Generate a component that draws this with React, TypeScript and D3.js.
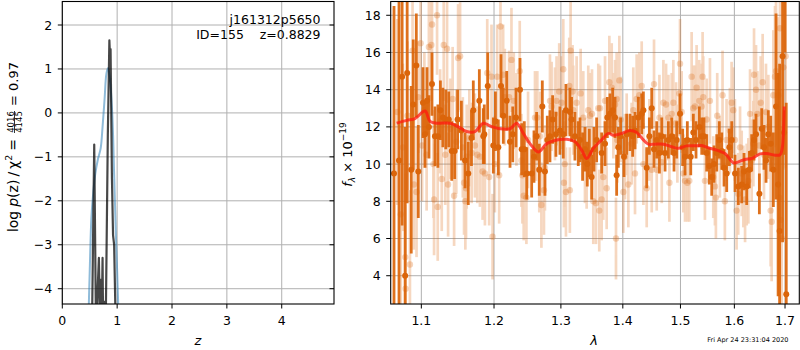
import React from 'react';
import * as d3 from 'd3';

// ---------- left panel: p(z) ----------
const pzZ = [0.54, 0.582, 0.615, 0.645, 0.667, 0.69, 0.70, 0.715, 0.734, 0.745, 0.77, 0.79, 0.83, 0.858, 0.872, 0.880, 0.905, 0.925, 0.945, 0.976];
const pzLogp = [-5, -0.72, -5, -4.0, -3.3, -5, -3.8, -5, -3.3, -5, -4.3, -5, -0.5, 1.65, 1.2, 1.45, -1.5, -2.78, -3.0, -5];
const priorZ = [0.47, 0.50, 0.53, 0.565, 0.60, 0.65, 0.70, 0.735, 0.77, 0.805, 0.835, 0.865, 0.91, 0.945, 0.975, 1.00, 1.035];
const priorLogp = [-5, -3.6, -2.4, -1.8, -1.4, -1.05, -0.8, -0.3, 0.3, 0.9, 1.02, 0.8, 0.0, -1.4, -2.7, -3.6, -5];
const zTicks = [0, 1, 2, 3, 4];
const logpTicks = [-4, -3, -2, -1, 0, 1, 2];

// ---------- right panel: spectrum ----------
const lamTicks = [1.1, 1.2, 1.3, 1.4, 1.5, 1.6, 1.7];
const fluxTicks = [4, 6, 8, 10, 12, 14, 16, 18];

const darkWave = [
  1.0646, 1.0710, 1.0750, 1.0789, 1.0815, 1.0868, 1.0894, 1.0934, 1.0960, 1.1022, 1.1049, 1.1075, 1.1101, 1.1141, 1.1181, 1.1220, 1.1254, 1.1287, 1.1327, 1.1367, 1.1408, 1.1448, 1.1488,
  1.1540, 1.1591, 1.1636, 1.1680, 1.1706, 1.1791, 1.1847, 1.1861, 1.1910, 1.1990, 1.2020, 1.2062, 1.2101, 1.2134, 1.2184, 1.2232, 1.2272, 1.2320, 1.2379, 1.2404, 1.2443, 1.2479,
  1.2553, 1.2588, 1.2628, 1.2668, 1.2714, 1.2754, 1.2790, 1.2831, 1.2872, 1.2923, 1.2985, 1.3037, 1.3079, 1.3141, 1.3167, 1.3220, 1.3273, 1.3300, 1.3342, 1.3380, 1.3417, 1.3450, 1.3487, 1.3525, 1.3568,
  1.3650, 1.3705, 1.3743, 1.3787, 1.3831, 1.3870, 1.3897, 1.3925, 1.3964, 1.4020, 1.4065, 1.4121, 1.4166, 1.4206, 1.4263, 1.4320, 1.4349, 1.4406, 1.4452, 1.4493, 1.4533, 1.4580, 1.4627, 1.4668, 1.4726, 1.4785,
  1.4844, 1.4885, 1.4933, 1.4992, 1.5040, 1.5082, 1.5124, 1.5186, 1.5233, 1.5282, 1.5343, 1.5387, 1.5429, 1.5479, 1.5527, 1.5572, 1.5615, 1.5666, 1.5714, 1.5760, 1.5803, 1.5854, 1.5904, 1.5950, 1.6013, 1.6076,
  1.6141, 1.6186, 1.6238, 1.6290, 1.6335, 1.6381, 1.6420, 1.6486, 1.6532, 1.6577, 1.6618, 1.6663, 1.6711, 1.6764, 1.6818, 1.6860, 1.6890, 1.6950, 1.6980, 1.7000, 1.7025,
];
const darkFlux = [
  9.5, 10.2, 14.7, 4.0, 14.9, 9.7, 13.2, 15.3, 9.6, 13.3, 11.6, 13.4, 12.0, 14.3, 11.5, 11.5, 12.9, 12.5, 12.4, 12.4, 10.7, 10.7, 12.4,
  11.8, 10.2, 9.5, 11.4, 12.9, 13.4, 11.5, 11.6, 14.2, 11.0, 12.3, 10.9, 14.2, 12.6, 13.4, 11.2, 11.6, 12.5, 14.0, 10.8, 10.8, 9.5,
  9.5, 10.4, 11.5, 9.7, 13.1, 9.6, 11.3, 11.5, 12.4, 11.6, 11.8, 11.6, 12.9, 12.8, 12.4, 11.5, 11.1, 11.3, 10.4, 10.8, 10.0, 10.6, 9.3, 10.8, 11.3,
  10.6, 11.1, 12.5, 12.7, 12.9, 12.5, 9.4, 10.9, 11.5, 10.4, 11.6, 11.7, 11.5, 11.8, 12.5, 12.7, 12.9, 9.8, 11.5, 13.0, 10.8, 11.3, 10.6, 11.5, 10.6, 11.3,
  11.5, 10.6, 11.3, 12.7, 10.9, 10.4, 11.3, 10.4, 11.7, 11.3, 12.0, 11.5, 11.5, 10.6, 9.9, 9.3, 10.0, 10.6, 11.3, 10.7, 9.8, 9.5, 10.9, 11.3, 9.5, 8.8,
  8.9, 9.6, 8.8, 9.7, 10.6, 11.3, 11.6, 8.4, 11.9, 10.9, 10.2, 11.6, 11.1, 9.7, 13.1, 8.9, 6.4, 15.8, 11.7, 25.0, 3.0,
];
const darkErr = [
  9.0, 9.0, 8.0, 8.0, 7.0, 4.5, 3.5, 2.8, 2.5, 1.9, 1.8, 1.8, 1.7, 1.7, 1.6, 1.7, 1.6, 1.6, 1.6, 1.5, 1.6, 1.5, 1.6,
  1.6, 1.5, 1.7, 1.5, 1.6, 1.7, 1.5, 1.6, 1.8, 1.5, 1.6, 1.5, 1.7, 1.5, 1.6, 1.4, 1.5, 1.6, 1.7, 1.4, 1.5, 1.4,
  1.3, 1.4, 1.3, 1.4, 1.4, 1.3, 1.3, 1.4, 1.3, 1.2, 1.3, 1.3, 1.4, 1.3, 1.2, 1.3, 1.2, 1.2, 1.3, 1.2, 1.2, 1.3, 1.2, 1.2, 1.2,
  1.1, 1.2, 1.1, 1.1, 1.2, 1.1, 1.1, 1.1, 1.0, 1.1, 1.1, 1.0, 1.1, 1.0, 1.1, 1.1, 1.0, 1.1, 1.0, 1.1, 1.0, 1.0, 1.1, 1.0, 1.0, 1.0,
  1.0, 1.0, 1.0, 1.1, 1.0, 1.0, 1.0, 1.0, 1.0, 1.0, 1.1, 1.0, 1.0, 1.0, 1.0, 1.0, 1.0, 1.0, 1.0, 1.0, 1.0, 1.0, 1.0, 1.0, 1.0, 1.0,
  1.0, 1.0, 1.0, 1.0, 1.0, 1.1, 1.1, 1.1, 1.1, 1.2, 1.2, 1.3, 1.5, 2.0, 5.0, 6.0, 9.0, 10.0, 1.2, 9.0, 10.3,
];

const lightWave = [
  1.0689, 1.0732, 1.0760, 1.0791, 1.0795, 1.0820, 1.0851, 1.0885, 1.0902, 1.0937, 1.0960, 1.0990, 1.1010, 1.1040, 1.1070, 1.1100, 1.1133, 1.1142, 1.1160, 1.1169, 1.1209, 1.1218, 1.1250, 1.1272, 1.1299, 1.1320, 1.1344, 1.1358, 1.1390, 1.1420, 1.1440, 1.1470, 1.1495,
  1.1522, 1.1560, 1.1577, 1.1595, 1.1605, 1.1614, 1.1651, 1.1683, 1.1729, 1.1762, 1.1799, 1.1837, 1.1870, 1.1903, 1.1931, 1.1964, 1.1979, 1.2012, 1.2045, 1.2074, 1.2093, 1.2132, 1.2156, 1.2219, 1.2253, 1.2287, 1.2326, 1.2375, 1.2400, 1.2415, 1.2434, 1.2474, 1.2499,
  1.2603, 1.2618, 1.2638, 1.2668, 1.2678, 1.2700, 1.2739, 1.2754, 1.2831, 1.2856, 1.2908, 1.2933, 1.2974, 1.3011, 1.3037, 1.3047, 1.3060, 1.3079, 1.3131, 1.3140, 1.3152, 1.3183, 1.3194, 1.3247, 1.3311, 1.3353, 1.3380, 1.3407, 1.3433, 1.3460, 1.3493, 1.3514, 1.3557, 1.3595, 1.3611,
  1.3623, 1.3650, 1.3677, 1.3705, 1.3732, 1.3776, 1.3815, 1.3842, 1.3870, 1.3886, 1.3897, 1.3908, 1.3942, 1.3964, 1.4009, 1.4037, 1.4065, 1.4093, 1.4149, 1.4177, 1.4206, 1.4234, 1.4280, 1.4320, 1.4349, 1.4406, 1.4452, 1.4493, 1.4533, 1.4580, 1.4627, 1.4668, 1.4697, 1.4744, 1.4785, 1.4803,
  1.4844, 1.4873, 1.4921, 1.4945, 1.4980, 1.4992, 1.5022, 1.5052, 1.5082, 1.5124, 1.5160, 1.5202, 1.5232, 1.5263, 1.5293, 1.5342, 1.5385, 1.5403, 1.5415, 1.5446, 1.5477, 1.5539, 1.5601, 1.5632, 1.5650, 1.5675, 1.5725, 1.5775, 1.5819, 1.5851, 1.5915, 1.5947, 1.5978, 1.6010, 1.6042, 1.6074,
  1.6109, 1.6141, 1.6173, 1.6206, 1.6238, 1.6270, 1.6303, 1.6335, 1.6368, 1.6381, 1.6420, 1.6446, 1.6485, 1.6512, 1.6551, 1.6577, 1.6617, 1.6664, 1.6710, 1.6730, 1.6764, 1.6797, 1.6818, 1.6865, 1.6885, 1.6898, 1.6912, 1.6932, 1.6966, 1.7013,
];
const lightFlux = [
  12.8, 7.3, 10.9, 5.0, 3.3, 12.6, 4.6, 16.1, 8.9, 8.5, 13.6, 16.5, 11.0, 12.9, 10.5, 16.3, 16.4, 17.5, 10.0, 8.1, 18.0, 7.7, 12.3, 9.2, 16.4, 10.5, 16.2, 8.9, 11.9, 13.5, 8.3, 11.2, 15.7,
  15.8, 10.9, 9.0, 8.0, 8.7, 10.4, 11.4, 10.6, 11.0, 10.5, 10.4, 9.6, 9.5, 14.9, 9.3, 14.7, 6.1, 10.0, 14.7, 9.4, 17.4, 14.8, 13.6, 13.6, 15.6, 13.4, 12.4, 15.0, 10.2, 9.4, 8.3, 8.2, 11.3,
  12.5, 11.5, 12.5, 9.7, 11.5, 7.8, 8.6, 9.8, 13.4, 13.1, 12.7, 13.4, 13.9, 13.3, 15.1, 9.0, 10.0, 8.5, 14.2, 8.6, 16.1, 13.9, 12.9, 13.3, 13.8, 12.5, 10.2, 9.8, 12.9, 12.6, 12.7, 8.0, 7.9, 13.0, 7.5,
  13.0, 8.1, 9.3, 13.4, 8.7, 14.4, 14.1, 12.6, 13.2, 6.0, 13.5, 11.3, 14.5, 12.4, 8.5, 10.4, 11.6, 8.9, 11.1, 12.9, 9.5, 13.5, 13.7, 14.2, 10.0, 8.7, 11.3, 9.7, 14.3, 9.7, 12.5, 10.1, 13.3, 13.2, 12.5, 9.0,
  12.7, 13.3, 12.2, 11.1, 13.8, 15.4, 12.8, 9.5, 9.1, 9.0, 9.1, 14.7, 13.0, 13.1, 14.1, 13.4, 13.1, 14.7, 13.6, 9.1, 12.4, 13.4, 9.3, 8.8, 8.2, 12.6, 10.4, 13.7, 8.0, 11.3, 11.8, 13.3, 12.9, 11.3, 7.5, 8.4,
  10.9, 9.5, 8.8, 8.1, 8.9, 9.1, 12.7, 10.2, 11.1, 14.8, 14.0, 12.7, 11.0, 13.3, 14.4, 10.5, 12.8, 12.0, 7.5, 6.9, 13.7, 14.7, 15.0, 13.7, 8.2, 17.3, 7.0, 6.0, 15.2, 15.8,
];
const lightErr = [
  5.0, 5.0, 4.5, 4.5, 4.5, 4.0, 4.0, 3.5, 3.5, 3.5, 3.0, 3.2, 3.0, 3.1, 3.0, 3.2, 3.0, 3.3, 2.9, 3.0, 3.2, 2.9, 2.8, 2.8, 3.0, 2.7, 2.9, 2.8, 2.7, 2.8, 2.7, 2.8, 2.9,
  2.9, 2.7, 2.8, 2.6, 2.7, 2.8, 2.6, 2.7, 2.8, 2.6, 2.7, 2.6, 2.8, 2.9, 2.6, 2.8, 2.3, 2.6, 2.8, 2.6, 3.0, 2.7, 2.6, 2.5, 2.8, 2.6, 2.5, 2.7, 2.5, 2.6, 2.4, 2.5, 2.6,
  2.5, 2.4, 2.5, 2.3, 2.4, 2.3, 2.4, 2.3, 2.5, 2.4, 2.5, 2.4, 2.6, 2.5, 2.7, 2.4, 2.3, 2.4, 2.6, 2.3, 2.7, 2.5, 2.4, 2.5, 2.4, 2.5, 2.3, 2.2, 2.4, 2.3, 2.4, 2.3, 2.2, 2.4, 2.2,
  2.3, 2.2, 2.3, 2.4, 2.2, 2.5, 2.4, 2.3, 2.4, 2.2, 2.5, 2.3, 2.4, 2.3, 2.2, 2.3, 2.2, 2.3, 2.2, 2.3, 2.2, 2.4, 2.3, 2.4, 2.2, 2.1, 2.2, 2.3, 2.4, 2.2, 2.3, 2.2, 2.3, 2.2, 2.3, 2.1,
  2.2, 2.3, 2.2, 2.1, 2.3, 2.4, 2.2, 2.1, 2.2, 2.1, 2.2, 2.4, 2.3, 2.2, 2.3, 2.2, 2.3, 2.4, 2.2, 2.1, 2.2, 2.3, 2.2, 2.1, 2.2, 2.3, 2.2, 2.4, 2.1, 2.2, 2.3, 2.2, 2.3, 2.2, 2.1, 2.2,
  2.2, 2.3, 2.2, 2.3, 2.2, 2.3, 2.4, 2.2, 2.3, 2.5, 2.4, 2.3, 2.4, 2.5, 2.6, 2.4, 2.6, 2.8, 3.0, 3.2, 3.5, 3.8, 4.0, 4.2, 4.5, 5.0, 5.0, 5.5, 5.5, 6.0,
];

const modelWave = [
  1.0680, 1.0809, 1.0917, 1.1049, 1.1115, 1.1204, 1.1384, 1.1499, 1.1614, 1.1730, 1.1848, 1.1943, 1.2087, 1.2232, 1.2330, 1.2429, 1.2528, 1.2654, 1.2781, 1.2935,
  1.3091, 1.3222, 1.3328, 1.3408, 1.3515, 1.3650, 1.3760, 1.3842, 1.3981, 1.4121, 1.4234, 1.4349, 1.4435, 1.4550, 1.4696, 1.4844, 1.4963, 1.5113, 1.5264, 1.5386,
  1.5510, 1.5665, 1.5822, 1.5981, 1.6077, 1.6205, 1.6335, 1.6499, 1.6631, 1.6798, 1.6900, 1.6940, 1.6965, 1.6985,
];
const modelFlux = [
  12.2, 12.35, 12.45, 12.85, 12.3, 12.2, 12.2, 12.0, 11.75, 11.75, 12.2, 12.05, 11.9, 11.9, 12.2, 11.65, 11.1, 10.65, 11.1, 11.3,
  11.33, 11.2, 10.75, 10.3, 10.85, 11.3, 11.65, 11.55, 11.65, 11.8, 11.7, 11.3, 11.07, 11.07, 11.07, 10.93, 10.85, 10.98, 10.98, 11.0,
  10.88, 10.75, 10.57, 10.07, 10.12, 10.25, 10.3, 10.55, 10.57, 10.48, 10.5, 10.8, 11.6, 13.1,
];

const FONT = 'DejaVu Sans, sans-serif';
const ORANGE = '#db650a';
const GRID = '#b0b0b0';

export default function App() {
  const L = { x0: 62.3, x1: 334, y0: 1.5, y1: 304 };
  const R = { x0: 390.7, x1: 799.3, y0: 1.5, y1: 304 };
  const zx = d3.scaleLinear().domain([0, 4.953]).range([L.x0, L.x1]);
  const zy = d3.scaleLinear().domain([-4.348, 2.535]).range([L.y1, L.y0]);
  const lx = d3.scaleLog().domain([1.0604, 1.7293]).range([R.x0, R.x1]);
  const fy = d3.scaleLinear().domain([2.48, 18.74]).range([R.y1, R.y0]);

  const pzLine = d3.line<number>().x((_, i) => zx(pzZ[i])).y((d) => zy(d));
  const priorLine = d3.line<number>().x((_, i) => zx(priorZ[i])).y((d) => zy(d)).curve(d3.curveCatmullRom);
  const modelLine = d3.line<number>().x((_, i) => lx(modelWave[i])).y((d) => fy(d)).curve(d3.curveCatmullRom);

  const tick = 4.5;
  const fs = 12.5;

  return (
    <svg width={800} height={350} style={{ position: 'absolute', left: 0, top: 0, background: '#fff' }} fontFamily={FONT}>
      <defs>
        <clipPath id="clipL"><rect x={L.x0} y={L.y0} width={L.x1 - L.x0} height={L.y1 - L.y0} /></clipPath>
        <clipPath id="clipR"><rect x={R.x0} y={R.y0} width={R.x1 - R.x0} height={R.y1 - R.y0} /></clipPath>
      </defs>

      {/* ---------------- left panel ---------------- */}
      <g>
        {zTicks.map((t) => (
          <line key={'gzx' + t} x1={zx(t)} x2={zx(t)} y1={L.y0} y2={L.y1} stroke={GRID} strokeWidth={1} />
        ))}
        {logpTicks.map((t) => (
          <line key={'gzy' + t} x1={L.x0} x2={L.x1} y1={zy(t)} y2={zy(t)} stroke={GRID} strokeWidth={1} />
        ))}
        <g clipPath="url(#clipL)">
          <path d={priorLine(priorLogp) || ''} fill="none" stroke="#1f77b4" strokeOpacity={0.5} strokeWidth={2} />
          <path d={pzLine(pzLogp) || ''} fill="none" stroke="#000" strokeOpacity={0.72} strokeWidth={2.2} strokeLinejoin="round" />
        </g>
        <rect x={L.x0} y={L.y0} width={L.x1 - L.x0} height={L.y1 - L.y0} fill="none" stroke="#000" strokeWidth={1.1} />
        {zTicks.map((t) => (
          <g key={'tzx' + t}>
            <line x1={zx(t)} x2={zx(t)} y1={L.y1} y2={L.y1 + tick} stroke="#000" strokeWidth={1} />
            <text x={zx(t)} y={325} textAnchor="middle" fontSize={fs}>{t}</text>
          </g>
        ))}
        {logpTicks.map((t) => (
          <g key={'tzy' + t}>
            <line x1={L.x0 - tick} x2={L.x0} y1={zy(t)} y2={zy(t)} stroke="#000" strokeWidth={1} />
            <line x1={L.x1 - tick} x2={L.x1} y1={zy(t)} y2={zy(t)} stroke="#000" strokeWidth={1} />
            <text x={L.x0 - 10} y={zy(t) + 4.5} textAnchor="end" fontSize={fs}>{t < 0 ? '\u2212' + Math.abs(t) : String(t)}</text>
          </g>
        ))}
        <text x={320.5} y={24} textAnchor="end" fontSize={fs}>j161312p5650</text>
        <text x={320.5} y={39} textAnchor="end" fontSize={fs} style={{ whiteSpace: 'pre' }}>{'ID=155    z=0.8829'}</text>
        <text x={198} y={345} textAnchor="middle" fontSize={13} fontStyle="italic">z</text>
        {/* y label */}
        <g transform="translate(17.5,0) rotate(-90)" fontSize={14}>
          <text x={-139} y={0} textAnchor="end">
            log<tspan dx={4} fontStyle="italic">p</tspan>(z)<tspan dx={3}>/</tspan><tspan dx={3}>χ</tspan><tspan dy={-5.5} fontSize={9.5}>2</tspan><tspan dy={5.5} dx={4}>=</tspan>
          </text>
          <text x={-122} y={-4} textAnchor="middle" fontSize={8.5}>4016</text>
          <line x1={-133} x2={-111} y1={-3} y2={-3} stroke="#000" strokeWidth={0.8} />
          <text x={-122} y={4.5} textAnchor="middle" fontSize={8.5}>4145</text>
          <text x={-106} y={0} textAnchor="start" fontSize={13}>= 0.97</text>
        </g>
      </g>

      {/* ---------------- right panel ---------------- */}
      <g>
        {lamTicks.map((t) => (
          <line key={'glx' + t} x1={lx(t)} x2={lx(t)} y1={R.y0} y2={R.y1} stroke={GRID} strokeWidth={1} />
        ))}
        {fluxTicks.map((t) => (
          <line key={'gfy' + t} x1={R.x0} x2={R.x1} y1={fy(t)} y2={fy(t)} stroke={GRID} strokeWidth={1} />
        ))}
        <g clipPath="url(#clipR)">
          <g opacity={0.3}>
            {lightWave.map((w, i) => (
              <line key={'lb' + i} x1={lx(w)} x2={lx(w)} y1={fy(lightFlux[i] - lightErr[i])} y2={fy(lightFlux[i] + lightErr[i])} stroke={ORANGE} strokeWidth={2.7} strokeOpacity={0.85} />
            ))}
          </g>
          {lightWave.map((w, i) => (
            <circle key={'lp' + i} cx={lx(w)} cy={fy(lightFlux[i])} r={3.2} fill={ORANGE} fillOpacity={0.27} />
          ))}
          {darkWave.map((w, i) => (
            <line key={'db' + i} x1={lx(w)} x2={lx(w)} y1={fy(darkFlux[i] - darkErr[i])} y2={fy(darkFlux[i] + darkErr[i])} stroke={ORANGE} strokeWidth={2.8} strokeOpacity={0.92} />
          ))}
          {darkWave.map((w, i) => (
            <circle key={'dp' + i} cx={lx(w)} cy={fy(darkFlux[i])} r={3} fill={ORANGE} />
          ))}
          <path d={modelLine(modelFlux) || ''} fill="none" stroke="#ff1a10" strokeOpacity={0.75} strokeWidth={3} strokeLinejoin="round" />
        </g>
        <rect x={R.x0} y={R.y0} width={R.x1 - R.x0} height={R.y1 - R.y0} fill="none" stroke="#000" strokeWidth={1.1} />
        {lamTicks.map((t) => (
          <g key={'tlx' + t}>
            <line x1={lx(t)} x2={lx(t)} y1={R.y1} y2={R.y1 + tick} stroke="#000" strokeWidth={1} />
            <text x={lx(t)} y={325} textAnchor="middle" fontSize={fs}>{t.toFixed(1)}</text>
          </g>
        ))}
        {fluxTicks.map((t) => (
          <g key={'tfy' + t}>
            <line x1={R.x0 - tick} x2={R.x0} y1={fy(t)} y2={fy(t)} stroke="#000" strokeWidth={1} />
            <text x={R.x0 - 10} y={fy(t) + 4.5} textAnchor="end" fontSize={fs}>{t}</text>
          </g>
        ))}
        <text x={594} y={345} textAnchor="middle" fontSize={13} fontStyle="italic">λ</text>
        <text transform="translate(351.5,154.5) rotate(-90)" textAnchor="middle" fontSize={13}>
          <tspan fontStyle="italic">f</tspan><tspan fontSize={9} dy={3} fontStyle="italic">λ</tspan><tspan dy={-3}> × 10</tspan><tspan fontSize={9} dy={-5.5}>−19</tspan>
        </text>
        <text x={788.5} y={342} textAnchor="end" fontSize={6.5}>Fri Apr 24 23:31:04 2020</text>
      </g>
    </svg>
  );
}
